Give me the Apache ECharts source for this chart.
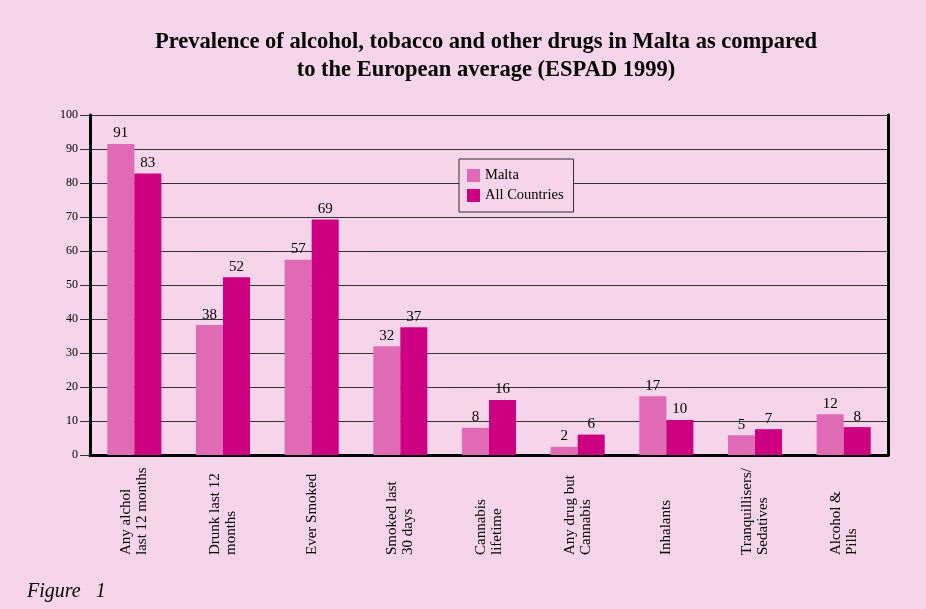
<!DOCTYPE html>
<html lang="en">
<head>
    <meta charset="UTF-8">
    <title>ESPAD 1999</title>
    <style>
        html, body { margin: 0; padding: 0; background: #f6d4ea; }
        #box { width: 926px; height: 609px; }
    </style>
</head>
<body>
    <div id="box"></div>
</body>
<script src="https://cdn.jsdelivr.net/npm/echarts@6/dist/echarts.min.js"></script>
<script>
    var categories = ['Any alchol\nlast 12 months', 'Drunk last 12\nmonths', 'Ever Smoked', 'Smoked last\n30 days',
        'Cannabis\nlifetime', 'Any drug but\nCannabis', 'Inhalants', 'Tranquillisers/\nSedatives', 'Alcohol &\nPills'];
    var maltaValues = [91.5, 38.2, 57.4, 32, 8, 2.4, 17.3, 5.8, 12];
    var allValues = [82.8, 52.3, 69.3, 37.6, 16.2, 6, 10.3, 7.6, 8.2];
    // printed labels as they appear on the chart
    var maltaLabels = ['91', '38', '57', '32', '8', '2', '17', '5', '12'];
    var allLabels = ['83', '52', '69', '37', '16', '6', '10', '7', '8'];

    var serif = '"Liberation Serif", "DejaVu Serif", serif';
    var box = echarts.init(document.getElementById('box'));
    var option = {
        backgroundColor: '#f6d4ea',
        animation: false,
        legend: {
            orient: 'vertical',
            left: 459,
            top: 159,
            padding: [9, 10, 9, 8],
            itemGap: 5,
            itemWidth: 13,
            itemHeight: 13,
            backgroundColor: '#f6d4ea',
            borderColor: '#333',
            borderWidth: 1,
            icon: 'rect',
            textStyle: { fontFamily: serif, fontSize: 14.5, color: '#000' },
            data: ['Malta', 'All Countries']
        },
        grid: { left: 90, right: 38, top: 115, bottom: 154 },
        xAxis: {
            type: 'category',
            data: categories,
            axisLine: { lineStyle: { color: '#000', width: 3 } },
            axisTick: { length: 10, lineStyle: { color: '#333', width: 1 } },
            axisLabel: {
                rotate: 90,
                interval: 0,
                margin: 100,
                align: 'left',
                fontFamily: serif,
                fontSize: 15,
                lineHeight: 16,
                color: '#000'
            }
        },
        yAxis: [{
            type: 'value',
            min: 0,
            max: 100,
            interval: 10,
            axisLine: { show: true, lineStyle: { color: '#000', width: 3 } },
            axisTick: { show: true, length: 10, lineStyle: { color: '#333', width: 1 } },
            axisLabel: { margin: 12, fontFamily: serif, fontSize: 12, color: '#000' },
            splitLine: { lineStyle: { color: '#333', width: 1 } }
        }, {
            type: 'value',
            position: 'right',
            min: 0,
            max: 100,
            interval: 10,
            axisLine: { show: true, lineStyle: { color: '#000', width: 3 } },
            axisTick: { show: false },
            axisLabel: { show: false },
            splitLine: { show: false }
        }],
        series: [
            {
                name: 'Malta',
                type: 'bar',
                data: maltaValues,
                barGap: '0%',
                barCategoryGap: '39%',
                itemStyle: { color: '#e06bb5' },
                label: {
                    show: true,
                    position: 'top',
                    distance: 3,
                    fontFamily: serif,
                    fontSize: 15,
                    color: '#000',
                    formatter: function (p) { return maltaLabels[p.dataIndex]; }
                }
            },
            {
                name: 'All Countries',
                type: 'bar',
                data: allValues,
                itemStyle: { color: '#cc0080' },
                label: {
                    show: true,
                    position: 'top',
                    distance: 3,
                    fontFamily: serif,
                    fontSize: 15,
                    color: '#000',
                    formatter: function (p) { return allLabels[p.dataIndex]; }
                }
            }
        ],
        graphic: [{
            type: 'text',
            x: 486,
            y: 28,
            style: {
                text: 'Prevalence of alcohol, tobacco and other drugs in Malta as compared\nto the European average (ESPAD 1999)',
                fontFamily: serif,
                fontWeight: 'bold',
                fontSize: 22.5,
                lineHeight: 28,
                align: 'center',
                fill: '#000'
            }
        }, {
            type: 'text',
            left: 27,
            top: 582,
            style: {
                text: 'Figure   1',
                fontFamily: serif,
                fontStyle: 'italic',
                fontSize: 20,
                fill: '#000'
            }
        }]
    };
    box.setOption(option);
</script>
</html>
